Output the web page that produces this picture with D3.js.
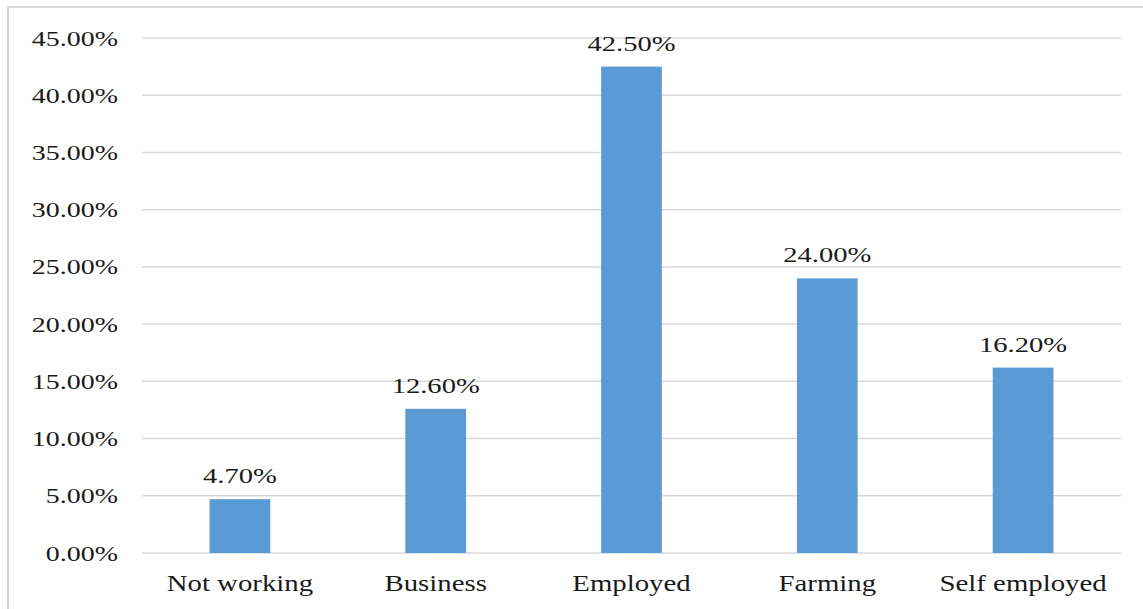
<!DOCTYPE html>
<html><head><meta charset="utf-8">
<script src="https://cdn.jsdelivr.net/npm/d3@7"></script>
<style>body{margin:0;background:#fff}svg{display:block}</style>
</head><body>
<svg id="c" width="1143" height="609"></svg>
<script>
const categories = ["Not working","Business","Employed","Farming","Self employed"];
const values = [4.7, 12.6, 42.5, 24.0, 16.2];
const valueLabels = ["4.70%","12.60%","42.50%","24.00%","16.20%"];
const tickValues = [0,5,10,15,20,25,30,35,40,45];
const tickLabels = ["0.00%","5.00%","10.00%","15.00%","20.00%","25.00%","30.00%","35.00%","40.00%","45.00%"];

(function(){
const svg = d3.select("#c");
const font = "'Liberation Serif','Times New Roman',serif";
svg.append("rect").attr("x",8).attr("y",7).attr("width",1145).attr("height",610)
  .attr("fill","#fff").attr("stroke","#D9D9D9").attr("stroke-width",2);

const pL = 142, pR = 1121, pT = 38, pB = 553;
const x = d3.scaleBand().domain(categories).range([pL,pR]).paddingInner(0.69).paddingOuter(0.345);
const y = d3.scaleLinear().domain([0,45]).range([pB,pT]);

const g = svg.append("g");
g.selectAll("line.grid").data(tickValues).join("line")
  .attr("x1",pL).attr("x2",pR)
  .attr("y1",d=>y(d)).attr("y2",d=>y(d))
  .attr("stroke","#D9D9D9").attr("stroke-width",1.5);

g.selectAll("text.tick").data(tickValues).join("text")
  .attr("transform",d=>`translate(118,${y(d)}) scale(1.3,1)`)
  .attr("dy","0.35em")
  .attr("text-anchor","end").attr("font-family",font).attr("font-size",21.5).attr("fill","#1a1a1a")
  .text((d,i)=>tickLabels[i]);

g.selectAll("rect.bar").data(values).join("rect")
  .attr("x",(d,i)=>x(categories[i])).attr("width",x.bandwidth())
  .attr("y",d=>y(d)).attr("height",d=>y(0)-y(d))
  .attr("fill","#5B9BD5");

g.selectAll("text.val").data(values).join("text")
  .attr("transform",(d,i)=>`translate(${x(categories[i])+x.bandwidth()/2},${y(d)-16}) scale(1.3,1)`)
  .attr("text-anchor","middle").attr("font-family",font).attr("font-size",22).attr("fill","#1a1a1a")
  .text((d,i)=>valueLabels[i]);

g.selectAll("text.cat").data(categories).join("text")
  .attr("transform",d=>`translate(${x(d)+x.bandwidth()/2},591) scale(1.2,1)`)
  .attr("text-anchor","middle").attr("font-family",font).attr("font-size",24).attr("fill","#1a1a1a")
  .text(d=>d);
})();
</script>
</body></html>
